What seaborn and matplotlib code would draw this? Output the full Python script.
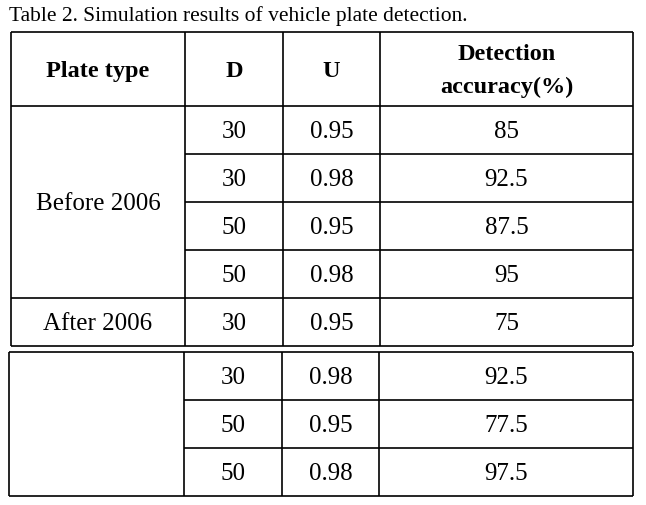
import matplotlib
matplotlib.use("Agg")
import matplotlib.pyplot as plt
import seaborn as sns

# table data
plate_types = ["Before 2006", "After 2006"]
d_vals = [30, 30, 50, 50, 30, 30, 50, 50]
u_vals = [0.95, 0.98, 0.95, 0.98, 0.95, 0.98, 0.95, 0.98]
accuracy = [85, 92.5, 87.5, 95, 75, 92.5, 77.5, 97.5]
headers = ["Plate type", "D", "U", "Detection\naccuracy(%)"]
title = "Table 2. Simulation results of vehicle plate detection."

sns.set_theme(style="white")
plt.rcParams["font.family"] = ["Liberation Serif", "DejaVu Serif"]
plt.rcParams["text.color"] = "black"

fig = plt.figure(figsize=(6.46, 5.06), dpi=100)
ax = fig.add_axes([0, 0, 1, 1])
ax.set_xlim(0, 646)
ax.set_ylim(506, 0)
ax.axis("off")

fs = 18
fs_head = 17.5
fs_title = 15.5
lw = 1.2

# layout (pixels): first block = header + 5 rows, second block = 3 rows
top_cols = [11, 185, 283, 380, 633]
top_rows = [33, 107, 155, 203, 251, 299, 347]
bot_cols = [9, 184, 282, 379, 633]
bot_rows = [353, 401, 449, 497]

ax.text(9, 16, title, fontsize=fs_title, va="center", ha="left")


def fmt(v):
    return f"{v:g}" if isinstance(v, float) else str(v)


# header
for i, h in enumerate(headers):
    cx = (top_cols[i] + top_cols[i + 1]) / 2
    cy = (top_rows[0] + top_rows[1]) / 2 + 1
    ax.text(cx, cy, h, fontsize=fs_head, fontweight="bold", ha="center", va="center",
            linespacing=1.7)

# first block rows
for r in range(5):
    cy = (top_rows[r + 1] + top_rows[r + 2]) / 2 + 1
    vals = [d_vals[r], u_vals[r], accuracy[r]]
    for c, v in enumerate(vals):
        cx = (top_cols[c + 1] + top_cols[c + 2]) / 2
        ax.text(cx, cy, fmt(v), fontsize=fs, ha="center", va="center")

# merged plate-type cells
ax.text((top_cols[0] + top_cols[1]) / 2, (top_rows[1] + top_rows[5]) / 2 + 1,
        plate_types[0], fontsize=fs, ha="center", va="center")
ax.text((top_cols[0] + top_cols[1]) / 2, (top_rows[5] + top_rows[6]) / 2 + 1,
        plate_types[1], fontsize=fs, ha="center", va="center")

# second block rows
for r in range(3):
    cy = (bot_rows[r] + bot_rows[r + 1]) / 2 + 1
    vals = [d_vals[r + 5], u_vals[r + 5], accuracy[r + 5]]
    for c, v in enumerate(vals):
        cx = (bot_cols[c + 1] + bot_cols[c + 2]) / 2
        ax.text(cx, cy, fmt(v), fontsize=fs, ha="center", va="center")

# grid lines - first block
ax.hlines([top_rows[0], top_rows[1], top_rows[5], top_rows[6]],
          top_cols[0], top_cols[-1], color="black", lw=lw)
ax.hlines(top_rows[2:5], top_cols[1], top_cols[-1], color="black", lw=lw)
ax.vlines(top_cols, top_rows[0], top_rows[-1], color="black", lw=lw)

# grid lines - second block
ax.hlines([bot_rows[0], bot_rows[-1]], bot_cols[0], bot_cols[-1], color="black", lw=lw)
ax.hlines(bot_rows[1:3], bot_cols[1], bot_cols[-1], color="black", lw=lw)
ax.vlines(bot_cols, bot_rows[0], bot_rows[-1], color="black", lw=lw)

fig.savefig("out.png", dpi=100, facecolor="white")
